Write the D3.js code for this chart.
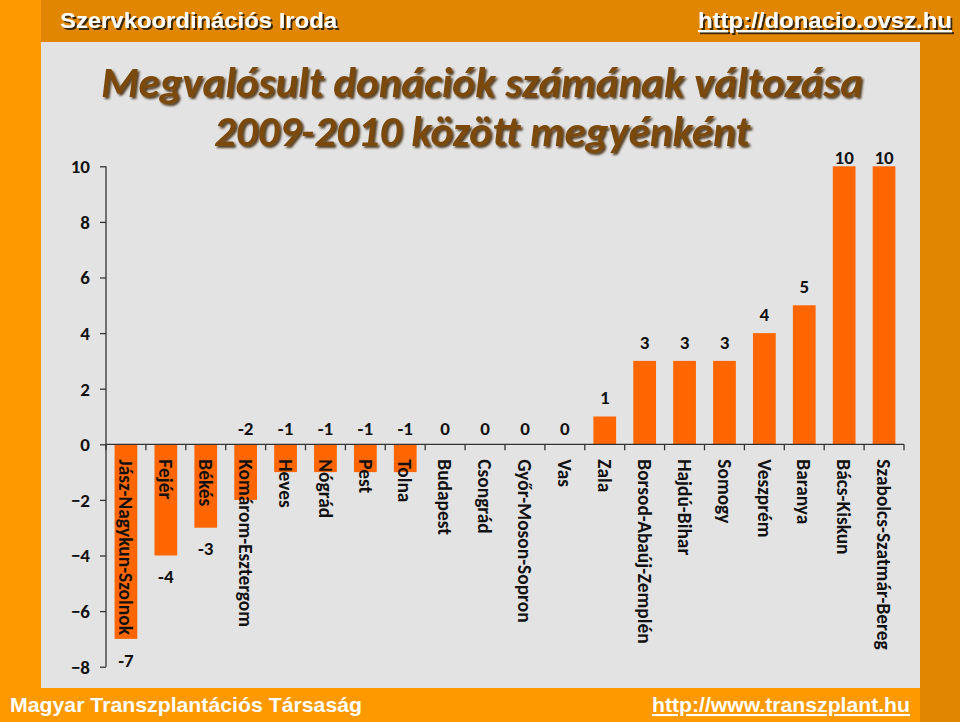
<!DOCTYPE html>
<html>
<head>
<meta charset="utf-8">
<script src="https://cdn.jsdelivr.net/npm/d3@7"></script>
<style>
  html, body { margin: 0; padding: 0; background: #FF9900; }
  svg { display: block; }
</style>
</head>
<body>
<svg id="chart" width="960" height="722"></svg>
<script>
const categories = ["Jász-Nagykun-Szolnok","Fejér","Békés","Komárom-Esztergom","Heves","Nógrád","Pest","Tolna","Budapest","Csongrád","Győr-Moson-Sopron","Vas","Zala","Borsod-Abaúj-Zemplén","Hajdú-Bihar","Somogy","Veszprém","Baranya","Bács-Kiskun","Szabolcs-Szatmár-Bereg"];
const changes = [-7,-4,-3,-2,-1,-1,-1,-1,0,0,0,0,1,3,3,3,4,5,10,10];
const yTicks = [-8,-6,-4,-2,0,2,4,6,8,10];
const titleLines = ["Megvalósult donációk számának változása","2009-2010 között megyénként"];
const headerLeft = "Szervkoordinációs Iroda";
const headerRight = "http://donacio.ovsz.hu";
const footerLeft = "Magyar Transzplantációs Társaság";
const footerRight = "http://www.transzplant.hu";

const svg = d3.select("#chart");
const W = 960, H = 722;
const chartFont = "Carlito, Lato, 'Open Sans', sans-serif";
const arial = "'Liberation Sans', Arial, sans-serif";

// filters
const defs = svg.append("defs");
const f1 = defs.append("filter").attr("id","titleShadow").attr("x","-5%").attr("y","-20%").attr("width","110%").attr("height","150%");
f1.append("feDropShadow").attr("dx",2).attr("dy",2).attr("stdDeviation",1.2).attr("flood-color","#3a2205").attr("flood-opacity",0.85);
const f2 = defs.append("filter").attr("id","hdrShadow").attr("x","-5%").attr("y","-20%").attr("width","110%").attr("height","160%");
f2.append("feDropShadow").attr("dx",2).attr("dy",2).attr("stdDeviation",0.6).attr("flood-color","#2a1a00").attr("flood-opacity",0.9);

// background layout
svg.append("rect").attr("x",0).attr("y",0).attr("width",W).attr("height",H).attr("fill","#FF9900");
svg.append("rect").attr("x",41).attr("y",0).attr("width",W-41).attr("height",42).attr("fill","#E08600");
svg.append("rect").attr("x",920).attr("y",0).attr("width",40).attr("height",H).attr("fill","#E08600");
svg.append("rect").attr("x",41).attr("y",42).attr("width",879).attr("height",646).attr("fill","#E3E3E3");

// header
svg.append("text").attr("x",60).attr("y",28).attr("fill","#fff")
  .attr("font-family",arial).attr("font-weight","bold").attr("font-size",22)
  .attr("filter","url(#hdrShadow)").attr("textLength",277).attr("lengthAdjust","spacingAndGlyphs")
  .text(headerLeft);
svg.append("text").attr("x",698).attr("y",28).attr("fill","#fff")
  .attr("font-family",arial).attr("font-weight","bold").attr("font-size",22)
  .attr("text-decoration","underline")
  .attr("filter","url(#hdrShadow)").attr("textLength",254).attr("lengthAdjust","spacingAndGlyphs")
  .text(headerRight);

// footer
svg.append("text").attr("x",10).attr("y",712).attr("fill","#fff")
  .attr("font-family",arial).attr("font-weight","bold").attr("font-size",21)
  .attr("textLength",352).attr("lengthAdjust","spacingAndGlyphs")
  .text(footerLeft);
svg.append("text").attr("x",652).attr("y",712).attr("fill","#fff")
  .attr("font-family",arial).attr("font-weight","bold").attr("font-size",21)
  .attr("text-decoration","underline")
  .attr("textLength",258).attr("lengthAdjust","spacingAndGlyphs")
  .text(footerRight);

// title
const title = svg.append("g").attr("filter","url(#titleShadow)");
title.selectAll("text").data(titleLines).join("text")
  .attr("x",482).attr("y",(d,i)=>97 + i*49)
  .attr("text-anchor","middle")
  .attr("fill","#7B4A10")
  .attr("font-family",chartFont).attr("font-weight","bold").attr("font-style","italic")
  .attr("font-size",43)
  .text(d=>d);

// scales
const x = d3.scaleBand().domain(categories).range([106,904]).paddingInner(0.43).paddingOuter(0.215);
const y = d3.scaleLinear().domain([-8,10]).range([666.7,166.3]);

// bars
svg.append("g").selectAll("rect").data(categories).join("rect")
  .attr("x",d=>x(d))
  .attr("width",x.bandwidth())
  .attr("y",(d,i)=>y(Math.max(0,changes[i])))
  .attr("height",(d,i)=>Math.abs(y(changes[i])-y(0)))
  .attr("fill","#FF6600");

// y axis
const yAxis = d3.axisLeft(y).tickValues(yTicks).tickSize(6).tickPadding(10).tickFormat(d3.format("d"));
const gy = svg.append("g").attr("transform","translate(106,0)").call(yAxis);
gy.select(".domain").attr("stroke","#333").attr("stroke-width",1.3).attr("d",`M0,${y(-8)}V${y(10)}`);
gy.selectAll(".tick line").attr("stroke","#333").attr("stroke-width",1.3);
gy.selectAll(".tick text").attr("font-family",chartFont).attr("font-weight","bold").attr("font-size",19).attr("fill","#111").attr("dy","0.34em");

// x axis line and ticks between categories
const step = x.step();
const boundaries = d3.range(categories.length+1).map(i=>106 + i*step);
const gx = svg.append("g");
gx.append("line").attr("x1",106).attr("x2",904).attr("y1",y(0)).attr("y2",y(0)).attr("stroke","#333").attr("stroke-width",1.3);
gx.selectAll("line.tk").data(boundaries).join("line").attr("class","tk")
  .attr("x1",d=>d).attr("x2",d=>d).attr("y1",y(0)).attr("y2",y(0)+6)
  .attr("stroke","#333").attr("stroke-width",1.3);

// category labels (rotated)
svg.append("g").selectAll("text").data(categories).join("text")
  .attr("transform",d=>`translate(${x(d)+x.bandwidth()/2},${y(0)+15}) rotate(90)`)
  .attr("dy","0.35em")
  .attr("font-family",chartFont).attr("font-weight","bold").attr("font-size",19.4).attr("fill","#111")
  .text(d=>d);

// value labels
function labelY(v){
  if (v > 0) return Math.max(y(v) - 19, y(10) - 9);
  if (v > -3) return y(0) - 16;
  return y(v) + 21;
}
svg.append("g").selectAll("text").data(changes).join("text")
  .attr("x",(d,i)=>x(categories[i])+x.bandwidth()/2)
  .attr("y",d=>labelY(d))
  .attr("dy","0.35em")
  .attr("text-anchor","middle")
  .attr("font-family",chartFont).attr("font-weight","bold").attr("font-size",19).attr("fill","#111")
  .text(d=>d);
</script>
</body>
</html>
